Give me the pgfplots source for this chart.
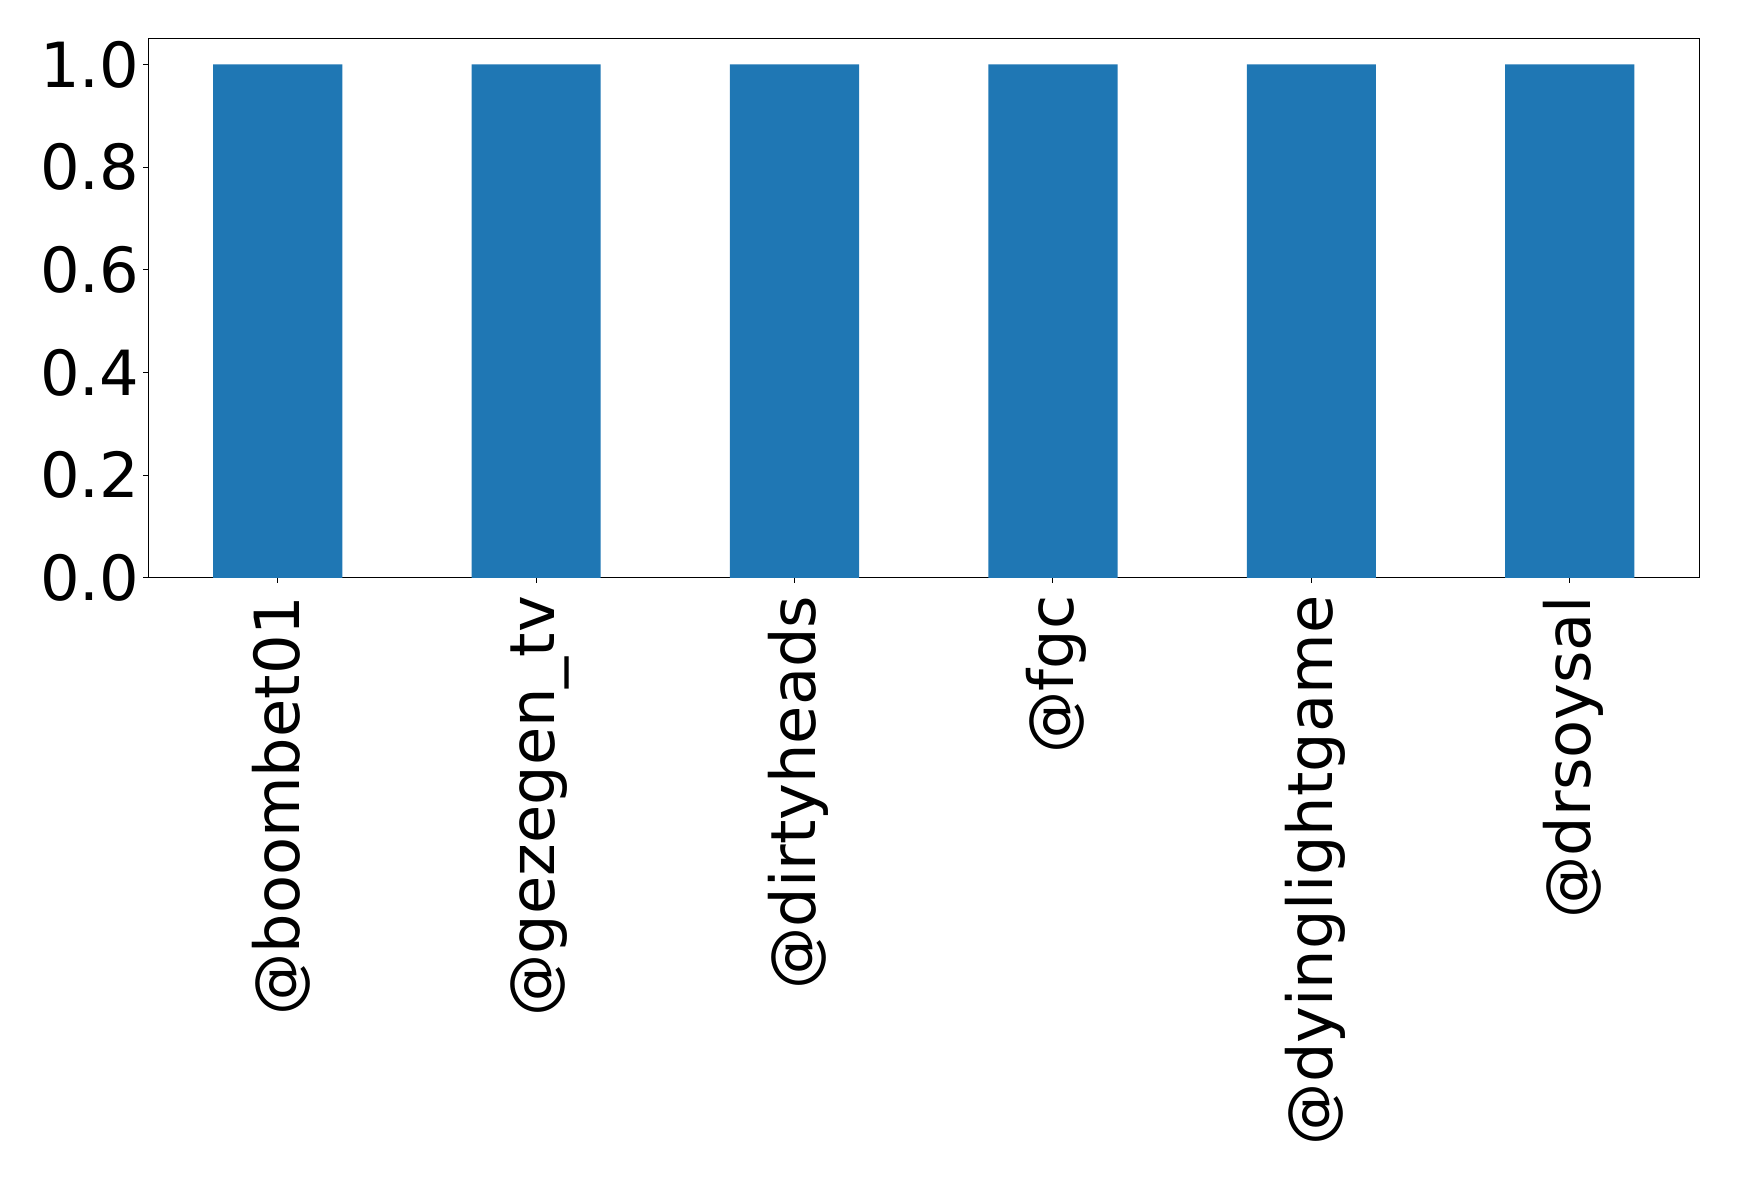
\documentclass[border=0pt]{standalone}
\usepackage{fontspec}
\setmainfont{DejaVu Sans}
\usepackage{pgfplots}
\pgfplotsset{compat=1.18}
\definecolor{mplblue}{HTML}{1F77B4}
\begin{document}
\begin{tikzpicture}
\begin{axis}[
  scale only axis,
  width=620.2pt, height=215.6pt,
  xmin=-0.5, xmax=5.5, ymin=0, ymax=1.05,
  xtick={0,1,2,3,4,5},
  xticklabels={@boombet01,@gezegen\_tv,@dirtyheads,@fgc,@dyinglightgame,@drsoysal},
  ytick={0,0.2,0.4,0.6,0.8,1.0},
  yticklabel style={/pgf/number format/fixed,/pgf/number format/fixed zerofill,/pgf/number format/precision=1},
  /pgf/number format/assume math mode=true,
  tick align=outside,
  tick pos=left,
  major tick length=2pt,
  tick style={black, line width=0.4pt},
  ticklabel style={font=\fontsize{24.9}{29}\selectfont},
  xticklabel style={xshift=1.4pt, rotate=90, anchor=east, inner sep=5pt},
  yticklabel style={inner sep=1.5pt},
  axis line style={black, line width=0.4pt},
  clip=false,
]
\addplot[ybar, bar width=0.5, fill=mplblue, draw=none] coordinates {
  (0,1) (1,1) (2,1) (3,1) (4,1) (5,1)
};
\end{axis}
\pgfresetboundingbox
\useasboundingbox (-59.4pt,-240.5pt) rectangle (636.2pt,231.1pt);
\end{tikzpicture}
\end{document}
